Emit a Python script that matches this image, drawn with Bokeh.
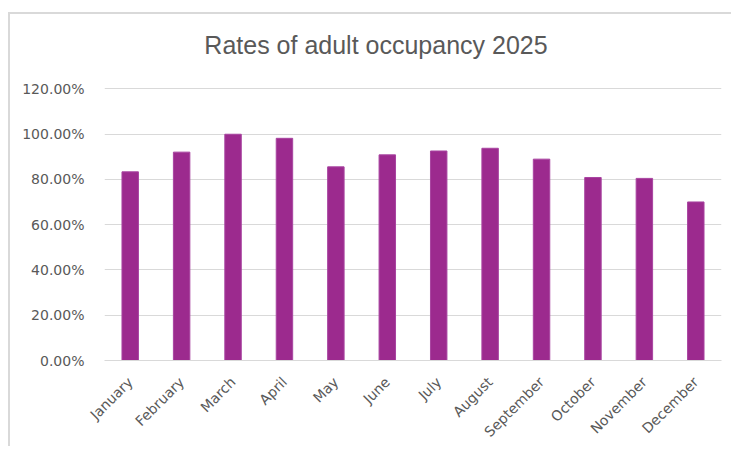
from bokeh.plotting import figure
from bokeh.models import FixedTicker, NumeralTickFormatter, Range1d, Label
from bokeh.embed import file_html
from bokeh.resources import INLINE
import math

months = ["January", "February", "March", "April", "May", "June", "July",
          "August", "September", "October", "November", "December"]
rates = [0.833, 0.920, 0.999, 0.981, 0.855, 0.908, 0.925, 0.937, 0.889, 0.808, 0.804, 0.700]
y_ticks = [0.0, 0.2, 0.4, 0.6, 0.8, 1.0, 1.2]
title_text = "Rates of adult occupancy 2025"

# the frame extends above the 120% gridline so that the title can sit inside it
p = figure(x_range=months, y_range=Range1d(0, 1.51), width=723, height=434,
           output_backend="svg", toolbar_location=None,
           min_border_left=94, min_border_right=12, min_border_top=4, min_border_bottom=88)
p.title.visible = False

p.vbar(x=months, top=rates, width=0.32, fill_color="#9C2A8E", line_color="#A844A0", line_width=1)

p.add_layout(Label(x=5.28, y=1.395, x_units="data", y_units="data", text=title_text,
                   text_align="center", text_baseline="alphabetic",
                   text_font="Liberation Sans", text_font_size="25px", text_color="#595959"))

p.outline_line_color = None
p.background_fill_color = "white"
p.border_fill_color = "white"
p.styles = {"border-top": "2px solid #d9d9d9", "border-left": "2px solid #d9d9d9",
            "margin-top": "12px", "margin-left": "8px"}

p.xgrid.grid_line_color = None
p.ygrid.grid_line_color = "#d9d9d9"
p.ygrid.grid_line_width = 1

p.yaxis.ticker = FixedTicker(ticks=y_ticks)
p.yaxis.formatter = NumeralTickFormatter(format="0.00%")
p.yaxis.axis_line_color = None
p.yaxis.major_tick_line_color = None
p.yaxis.minor_tick_line_color = None
p.yaxis.major_label_standoff = 14
p.yaxis.major_label_text_font = "DejaVu Sans"
p.yaxis.major_label_text_font_size = "14px"
p.yaxis.major_label_text_color = "#595959"

p.xaxis.axis_line_color = "#d9d9d9"
p.xaxis.major_tick_line_color = None
p.xaxis.minor_tick_line_color = None
p.xaxis.major_label_orientation = math.pi / 4
p.xaxis.major_label_standoff = 13
p.xaxis.major_label_text_font = "DejaVu Sans"
p.xaxis.major_label_text_font_size = "14px"
p.xaxis.major_label_text_color = "#595959"

p.x_range.range_padding = 0

open("out.html", "w").write(file_html(p, INLINE))
